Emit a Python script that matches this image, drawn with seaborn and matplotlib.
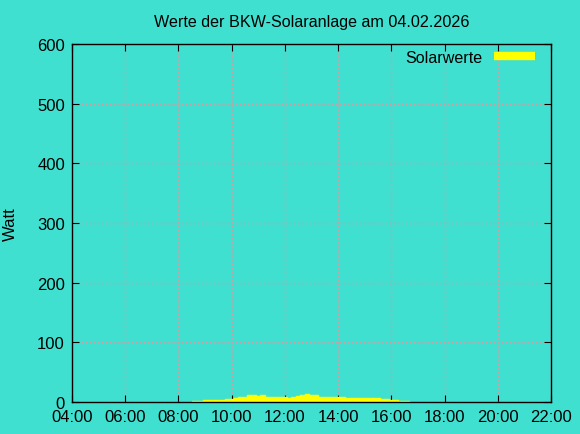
import numpy as np
import pandas as pd
import matplotlib
matplotlib.use("Agg")
import matplotlib.pyplot as plt
import seaborn as sns

# Solar readings (10-minute steps)
times = ["08:30", "08:40", "08:50", "09:00", "09:10", "09:20", "09:30", "09:40", "09:50",
         "10:00", "10:10", "10:20", "10:30", "10:40", "10:50", "11:00", "11:10", "11:20",
         "11:30", "11:40", "11:50", "12:00", "12:10", "12:20", "12:30", "12:40", "12:50",
         "13:00", "13:10", "13:20", "13:30", "13:40", "13:50", "14:00", "14:10", "14:20",
         "14:30", "14:40", "14:50", "15:00", "15:10", "15:20", "15:30", "15:40", "15:50",
         "16:00", "16:10", "16:20", "16:30", "16:40"]
watts = [1, 1, 2, 3, 3, 3, 4, 4, 5,
         5, 6, 8, 9, 11, 11, 10, 11, 9,
         8, 8, 8, 8, 7, 8, 10, 12, 13,
         12, 11, 9, 8, 8, 8, 8, 8, 7,
         7, 6, 6, 6, 6, 6, 6, 5, 5,
         4, 4, 2, 2, 1]
x_ticks = [4, 6, 8, 10, 12, 14, 16, 18, 20, 22]
y_ticks = [0, 100, 200, 300, 400, 500, 600]

bg = "#40E0D0"

df = pd.DataFrame({"time": times, "watt": watts})
df["hour"] = df["time"].apply(lambda t: int(t[:2]) + int(t[3:]) / 60)

sns.set_style("ticks")
plt.rcParams["font.family"] = ["Liberation Sans", "DejaVu Sans"]
plt.rcParams["text.color"] = "black"

fig = plt.figure(figsize=(5.8, 4.35), dpi=100, facecolor=bg)
ax = fig.add_axes([0.124, 0.0736, 0.826, 0.823])
ax.set_facecolor(bg)

ax.fill_between(df["hour"], 0, df["watt"], step="mid", color="yellow", linewidth=0)
sns.lineplot(data=df, x="hour", y="watt", ax=ax, color="yellow", linewidth=1,
             drawstyle="steps-mid", label="Solarwerte")

ax.set_xlim(4, 22)
ax.set_ylim(0, 600)
ax.set_xticks(x_ticks)
ax.set_xticklabels([f"{h:02d}:00" for h in x_ticks])
ax.set_yticks(y_ticks)
ax.tick_params(direction="in", top=True, right=True, labelsize=12, length=5,
               colors="black", labelcolor="black", pad=5)
ax.grid(True, color="#c8a0a8", linestyle=(0, (1.5, 1.5)), linewidth=1)
for s in ax.spines.values():
    s.set_color("black")
    s.set_linewidth(1)

ax.set_xlabel("")
ax.set_ylabel("Watt", fontsize=12, labelpad=14, color="black")
ax.set_title("Werte der BKW-Solaranlage am 04.02.2026", fontsize=11.6, pad=13,
             color="black")

leg = ax.legend(loc="upper right", bbox_to_anchor=(0.967, 0.984), frameon=False,
                markerfirst=False, fontsize=11.6, handlelength=2.55,
                borderaxespad=0, borderpad=0, handletextpad=0.7)
for h in leg.get_lines():
    h.set_linewidth(6)
    h.set_solid_capstyle("butt")
for t in leg.get_texts():
    t.set_color("black")

fig.savefig("out.png", dpi=100, facecolor=bg)
